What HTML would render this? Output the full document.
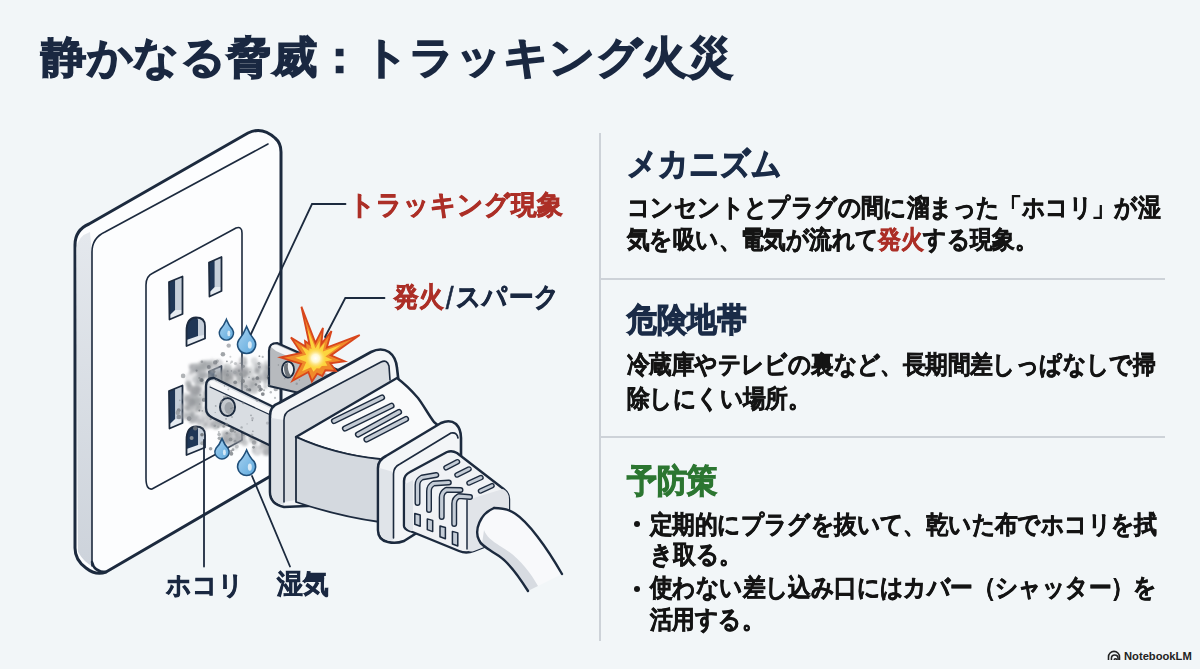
<!DOCTYPE html>
<html lang="ja">
<head>
<meta charset="utf-8">
<style>
*{margin:0;padding:0;box-sizing:border-box}
html,body{width:1200px;height:669px;overflow:hidden;background:#f2f6f8}
body{position:relative;font-family:"Liberation Sans",sans-serif;font-weight:bold}
.t{position:absolute;white-space:nowrap}
#title{-webkit-text-stroke:1.4px;left:41px;top:29px;font-size:45.5px;line-height:60px;color:#1a2841;transform:scaleY(0.95);transform-origin:0 0;letter-spacing:-0.45px}
.h{-webkit-text-stroke:1px;font-size:30px;line-height:40px;color:#1a2b47;transform:scaleY(1.1);transform-origin:0 0}
.b{-webkit-text-stroke:0.55px;font-size:22.6px;line-height:30px;color:#141414;transform:scaleY(1.1);transform-origin:0 0;letter-spacing:-0.6px}
.grn{color:#2c7631}
.dot{position:absolute;left:634.3px;width:6px;height:6px;border-radius:50%;background:#141414}
#vline{position:absolute;left:599px;top:133px;width:2px;height:508px;background:#cdd2d8}
.hline{position:absolute;left:600px;width:565px;height:2px;background:#cdd2d8}
#illu{position:absolute;left:0;top:0}
.lbl{-webkit-text-stroke:0.7px;font-size:25px;line-height:30px;color:#1a2841;transform:scaleY(1.05);transform-origin:0 0}
.red{color:#ac2f27}
#logo{position:absolute;left:1124px;top:649.5px;font-size:11.2px;color:#222;font-weight:bold}
</style>
</head>
<body>
<svg id="illu" width="600" height="669" viewBox="0 0 600 669">
<defs>
<radialGradient id="dust" cx="50%" cy="50%" r="50%">
<stop offset="0" stop-color="#8f9397" stop-opacity="0.8"/>
<stop offset="0.55" stop-color="#9da1a5" stop-opacity="0.6"/>
<stop offset="1" stop-color="#a9adb1" stop-opacity="0"/>
</radialGradient>
<radialGradient id="glow" cx="50%" cy="50%" r="50%">
<stop offset="0" stop-color="#ffffff"/>
<stop offset="0.4" stop-color="#fff8d0"/>
<stop offset="1" stop-color="#fde06a" stop-opacity="0"/>
</radialGradient>
<linearGradient id="side" x1="0" y1="0" x2="0" y2="1">
<stop offset="0" stop-color="#e4e8ed"/>
<stop offset="1" stop-color="#cdd3db"/>
</linearGradient>
<linearGradient id="drop" x1="0" y1="0" x2="1" y2="1">
<stop offset="0" stop-color="#a9d4f2"/>
<stop offset="1" stop-color="#5ea8dc"/>
</linearGradient>
<filter id="blur1" x="-20%" y="-20%" width="140%" height="140%"><feGaussianBlur stdDeviation="1.2"/></filter>
</defs>

<g stroke="#1c2a3e" stroke-linejoin="round" stroke-linecap="round">
<path d="M75,548 L75,245 Q75,230 89,224 L248,133 Q262,126 275,138 Q281,143 281,152 L281,470 L106,572 Q96,576 86,568 Q75,560 75,548 Z" fill="#fcfdfe" stroke-width="3"/>
<path d="M76.5,248 Q78,236 90,232 L92,254 L92,566 Q84,562 78,552 Z" fill="url(#side)" stroke="none"/>
<path d="M92,566 L92,252 Q92,238 105,232 L268,144" fill="none" stroke-width="1.6"/>
<path d="M92,562 Q94,572 106,572" fill="none" stroke-width="2.5"/>
<path d="M146,478 L146,285 Q146,276 153,273 L236,228 Q242,226 242,233 L242,440 L152,489 Q146,490 146,478 Z" fill="#fdfdfe" stroke-width="1.6"/>
<path d="M169,282 L182.5,276.5 L182.5,314.0 L169.5,319.5 Z" fill="#e6ebf1" stroke="none"/>
<path d="M175.075,279.525 L182.5,276.5 L182.5,310.0 L175.075,310.025 Z" fill="#c6cfda" stroke="none"/>
<path d="M169,282 L175.075,279.525 L175.075,310.025 L169.3,315.5 Z" fill="#1f3656" stroke="none"/>
<path d="M169,282 L182.5,276.5 L182.5,314.0 L169.5,319.5 Z" fill="none" stroke-width="1.8"/>
<path d="M209,262.5 L221.5,257 L221.5,291 L209.5,296.5 Z" fill="#e6ebf1" stroke="none"/>
<path d="M214.625,260.025 L221.5,257 L221.5,287 L214.625,287.025 Z" fill="#c6cfda" stroke="none"/>
<path d="M209,262.5 L214.625,260.025 L214.625,287.025 L209.3,292.5 Z" fill="#1f3656" stroke="none"/>
<path d="M209,262.5 L221.5,257 L221.5,291 L209.5,296.5 Z" fill="none" stroke-width="1.8"/>
<path d="M186.5,346 L186.5,331 Q186.5,318 196,317.5 Q205,317.5 205,326 L205,338.5 Z" fill="#e6ebf1" stroke="none"/>
<path d="M198,318.5 Q204,319 204,326 L204,335 L198,336 Z" fill="#c6cfda" stroke="none"/>
<path d="M186.5,340 L186.5,331 Q186.5,318 196,317.5 Q198,318 198,320 L198,336 Z" fill="#1f3656" stroke="none"/>
<path d="M186.5,346 L186.5,331 Q186.5,318 196,317.5 Q205,317.5 205,326 L205,338.5 Z" fill="none" stroke-width="1.8"/>
<path d="M169,391 L182.5,385.5 L182.5,423.0 L169.5,428.5 Z" fill="#e6ebf1" stroke="none"/>
<path d="M175.075,388.525 L182.5,385.5 L182.5,419.0 L175.075,419.025 Z" fill="#c6cfda" stroke="none"/>
<path d="M169,391 L175.075,388.525 L175.075,419.025 L169.3,424.5 Z" fill="#1f3656" stroke="none"/>
<path d="M169,391 L182.5,385.5 L182.5,423.0 L169.5,428.5 Z" fill="none" stroke-width="1.8"/>
<path d="M209,371.5 L221.5,366 L221.5,400 L209.5,405.5 Z" fill="#e6ebf1" stroke="none"/>
<path d="M214.625,369.025 L221.5,366 L221.5,396 L214.625,396.025 Z" fill="#c6cfda" stroke="none"/>
<path d="M209,371.5 L214.625,369.025 L214.625,396.025 L209.3,401.5 Z" fill="#1f3656" stroke="none"/>
<path d="M209,371.5 L221.5,366 L221.5,400 L209.5,405.5 Z" fill="none" stroke-width="1.8"/>
<path d="M186.5,455 L186.5,440 Q186.5,427 196,426.5 Q205,426.5 205,435 L205,447.5 Z" fill="#e6ebf1" stroke="none"/>
<path d="M198,427.5 Q204,428 204,435 L204,444 L198,445 Z" fill="#c6cfda" stroke="none"/>
<path d="M186.5,449 L186.5,440 Q186.5,427 196,426.5 Q198,427 198,429 L198,445 Z" fill="#1f3656" stroke="none"/>
<path d="M186.5,455 L186.5,440 Q186.5,427 196,426.5 Q205,426.5 205,435 L205,447.5 Z" fill="none" stroke-width="1.8"/>
</g>
<g>
<g filter="url(#blur1)"><circle cx="190.5" cy="417.5" r="3.0" fill="#8f9296" opacity="0.44"/><circle cx="190.7" cy="405.5" r="4.8" fill="#afb2b5" opacity="0.42"/><circle cx="192.9" cy="418.8" r="3.7" fill="#8f9296" opacity="0.37"/><circle cx="192.7" cy="399.3" r="2.1" fill="#8f9296" opacity="0.47"/><circle cx="189.1" cy="402.0" r="4.5" fill="#a3a6aa" opacity="0.34"/><circle cx="199.0" cy="408.2" r="3.4" fill="#8f9296" opacity="0.46"/><circle cx="195.0" cy="400.1" r="4.7" fill="#8f9296" opacity="0.54"/><circle cx="193.6" cy="412.3" r="1.6" fill="#8f9296" opacity="0.32"/><circle cx="195.9" cy="402.6" r="4.0" fill="#afb2b5" opacity="0.38"/><circle cx="193.6" cy="393.8" r="3.6" fill="#8f9296" opacity="0.43"/><circle cx="196.6" cy="396.9" r="5.2" fill="#afb2b5" opacity="0.55"/><circle cx="188.4" cy="399.7" r="4.9" fill="#a3a6aa" opacity="0.46"/><circle cx="192.2" cy="420.6" r="3.8" fill="#afb2b5" opacity="0.29"/><circle cx="182.4" cy="406.6" r="3.4" fill="#afb2b5" opacity="0.49"/><circle cx="187.3" cy="408.1" r="2.7" fill="#8f9296" opacity="0.51"/><circle cx="197.2" cy="408.7" r="1.7" fill="#afb2b5" opacity="0.42"/><circle cx="194.1" cy="401.1" r="2.4" fill="#a3a6aa" opacity="0.34"/><circle cx="196.5" cy="411.2" r="1.6" fill="#9b9ea2" opacity="0.54"/><circle cx="188.8" cy="412.8" r="4.3" fill="#afb2b5" opacity="0.34"/><circle cx="199.1" cy="400.7" r="3.0" fill="#8f9296" opacity="0.51"/><circle cx="183.1" cy="415.8" r="4.2" fill="#a3a6aa" opacity="0.44"/><circle cx="196.2" cy="400.6" r="3.2" fill="#9b9ea2" opacity="0.53"/><circle cx="185.9" cy="408.1" r="2.7" fill="#afb2b5" opacity="0.25"/><circle cx="183.8" cy="411.6" r="1.6" fill="#9b9ea2" opacity="0.27"/><circle cx="185.6" cy="396.8" r="4.2" fill="#afb2b5" opacity="0.43"/><circle cx="188.8" cy="416.5" r="3.9" fill="#a3a6aa" opacity="0.54"/><circle cx="190.0" cy="416.2" r="3.9" fill="#afb2b5" opacity="0.30"/><circle cx="193.4" cy="419.0" r="4.9" fill="#afb2b5" opacity="0.34"/><circle cx="183.9" cy="415.8" r="1.6" fill="#9b9ea2" opacity="0.34"/><circle cx="191.5" cy="420.6" r="2.5" fill="#9b9ea2" opacity="0.45"/><circle cx="208.2" cy="388.2" r="3.9" fill="#afb2b5" opacity="0.45"/><circle cx="215.7" cy="424.6" r="5.3" fill="#a3a6aa" opacity="0.35"/><circle cx="197.8" cy="369.4" r="3.3" fill="#9b9ea2" opacity="0.49"/><circle cx="236.8" cy="402.0" r="2.8" fill="#9b9ea2" opacity="0.51"/><circle cx="199.5" cy="420.6" r="1.8" fill="#afb2b5" opacity="0.43"/><circle cx="196.6" cy="405.9" r="4.9" fill="#8f9296" opacity="0.35"/><circle cx="198.6" cy="405.1" r="3.1" fill="#8f9296" opacity="0.30"/><circle cx="237.1" cy="396.0" r="5.0" fill="#8f9296" opacity="0.42"/><circle cx="233.2" cy="392.5" r="1.6" fill="#8f9296" opacity="0.50"/><circle cx="202.9" cy="375.4" r="2.7" fill="#afb2b5" opacity="0.52"/><circle cx="227.3" cy="371.3" r="5.4" fill="#a3a6aa" opacity="0.49"/><circle cx="235.5" cy="403.9" r="4.3" fill="#9b9ea2" opacity="0.52"/><circle cx="227.1" cy="380.6" r="1.6" fill="#a3a6aa" opacity="0.30"/><circle cx="205.7" cy="420.3" r="3.6" fill="#8f9296" opacity="0.27"/><circle cx="218.0" cy="390.2" r="2.0" fill="#8f9296" opacity="0.49"/><circle cx="221.7" cy="400.2" r="2.0" fill="#a3a6aa" opacity="0.30"/><circle cx="218.4" cy="363.7" r="4.7" fill="#a3a6aa" opacity="0.40"/><circle cx="198.5" cy="386.5" r="4.5" fill="#9b9ea2" opacity="0.33"/><circle cx="196.7" cy="391.5" r="3.4" fill="#a3a6aa" opacity="0.51"/><circle cx="212.6" cy="389.7" r="1.7" fill="#8f9296" opacity="0.54"/><circle cx="215.6" cy="388.8" r="3.5" fill="#afb2b5" opacity="0.30"/><circle cx="225.2" cy="403.4" r="3.1" fill="#afb2b5" opacity="0.36"/><circle cx="216.8" cy="411.3" r="2.0" fill="#a3a6aa" opacity="0.46"/><circle cx="207.8" cy="400.1" r="2.2" fill="#afb2b5" opacity="0.39"/><circle cx="201.5" cy="375.9" r="4.0" fill="#a3a6aa" opacity="0.44"/><circle cx="198.9" cy="402.8" r="3.5" fill="#afb2b5" opacity="0.38"/><circle cx="206.4" cy="374.9" r="2.5" fill="#afb2b5" opacity="0.46"/><circle cx="226.0" cy="403.8" r="3.2" fill="#a3a6aa" opacity="0.53"/><circle cx="194.8" cy="417.6" r="4.7" fill="#afb2b5" opacity="0.29"/><circle cx="202.9" cy="364.5" r="4.4" fill="#8f9296" opacity="0.45"/><circle cx="210.1" cy="371.0" r="1.9" fill="#a3a6aa" opacity="0.39"/><circle cx="213.3" cy="414.2" r="3.6" fill="#a3a6aa" opacity="0.45"/><circle cx="195.6" cy="416.2" r="2.9" fill="#a3a6aa" opacity="0.26"/><circle cx="224.6" cy="409.5" r="4.3" fill="#afb2b5" opacity="0.42"/><circle cx="213.1" cy="390.6" r="4.6" fill="#9b9ea2" opacity="0.28"/><circle cx="211.8" cy="362.4" r="1.7" fill="#afb2b5" opacity="0.51"/><circle cx="214.4" cy="401.6" r="5.5" fill="#9b9ea2" opacity="0.39"/><circle cx="204.3" cy="363.8" r="2.5" fill="#8f9296" opacity="0.53"/><circle cx="188.1" cy="383.4" r="3.0" fill="#9b9ea2" opacity="0.54"/><circle cx="193.4" cy="409.9" r="2.1" fill="#8f9296" opacity="0.30"/><circle cx="192.3" cy="413.4" r="2.2" fill="#8f9296" opacity="0.47"/><circle cx="227.2" cy="383.5" r="3.3" fill="#9b9ea2" opacity="0.29"/><circle cx="212.1" cy="384.3" r="3.6" fill="#9b9ea2" opacity="0.51"/><circle cx="190.2" cy="388.1" r="4.2" fill="#8f9296" opacity="0.43"/><circle cx="189.8" cy="377.9" r="5.1" fill="#afb2b5" opacity="0.26"/><circle cx="197.5" cy="397.5" r="2.2" fill="#afb2b5" opacity="0.32"/><circle cx="188.3" cy="398.4" r="3.2" fill="#8f9296" opacity="0.46"/><circle cx="217.1" cy="418.6" r="5.1" fill="#a3a6aa" opacity="0.39"/><circle cx="207.7" cy="364.5" r="3.1" fill="#a3a6aa" opacity="0.39"/><circle cx="213.4" cy="409.1" r="4.4" fill="#a3a6aa" opacity="0.54"/><circle cx="218.7" cy="383.5" r="2.3" fill="#afb2b5" opacity="0.29"/><circle cx="197.2" cy="376.4" r="1.6" fill="#afb2b5" opacity="0.30"/><circle cx="221.0" cy="398.4" r="1.9" fill="#a3a6aa" opacity="0.29"/><circle cx="209.8" cy="427.1" r="1.6" fill="#8f9296" opacity="0.42"/><circle cx="211.4" cy="393.5" r="2.8" fill="#8f9296" opacity="0.36"/><circle cx="229.6" cy="407.3" r="4.5" fill="#8f9296" opacity="0.37"/><circle cx="205.0" cy="392.4" r="2.6" fill="#8f9296" opacity="0.28"/><circle cx="230.6" cy="374.1" r="1.9" fill="#afb2b5" opacity="0.45"/><circle cx="201.1" cy="410.5" r="4.2" fill="#afb2b5" opacity="0.28"/><circle cx="224.8" cy="388.9" r="3.8" fill="#a3a6aa" opacity="0.45"/><circle cx="207.2" cy="394.7" r="2.7" fill="#9b9ea2" opacity="0.44"/><circle cx="211.0" cy="384.2" r="3.0" fill="#8f9296" opacity="0.29"/><circle cx="219.3" cy="390.6" r="2.8" fill="#8f9296" opacity="0.42"/><circle cx="202.2" cy="378.0" r="2.7" fill="#9b9ea2" opacity="0.46"/><circle cx="219.3" cy="402.6" r="3.7" fill="#8f9296" opacity="0.36"/><circle cx="210.5" cy="414.0" r="5.0" fill="#a3a6aa" opacity="0.39"/><circle cx="209.2" cy="422.1" r="3.6" fill="#afb2b5" opacity="0.53"/><circle cx="190.3" cy="404.6" r="1.8" fill="#8f9296" opacity="0.50"/><circle cx="221.0" cy="405.0" r="1.9" fill="#a3a6aa" opacity="0.42"/><circle cx="217.9" cy="390.1" r="4.3" fill="#8f9296" opacity="0.45"/><circle cx="192.0" cy="416.3" r="2.0" fill="#9b9ea2" opacity="0.51"/><circle cx="217.4" cy="372.5" r="2.2" fill="#9b9ea2" opacity="0.31"/><circle cx="212.0" cy="424.3" r="1.6" fill="#8f9296" opacity="0.52"/><circle cx="225.9" cy="389.0" r="3.7" fill="#afb2b5" opacity="0.44"/><circle cx="232.5" cy="391.1" r="2.7" fill="#8f9296" opacity="0.26"/><circle cx="219.2" cy="419.1" r="1.9" fill="#9b9ea2" opacity="0.40"/><circle cx="195.9" cy="391.8" r="2.3" fill="#9b9ea2" opacity="0.26"/><circle cx="192.0" cy="394.9" r="3.3" fill="#afb2b5" opacity="0.54"/><circle cx="218.1" cy="388.6" r="4.7" fill="#a3a6aa" opacity="0.26"/><circle cx="199.3" cy="379.7" r="3.5" fill="#a3a6aa" opacity="0.53"/><circle cx="201.4" cy="423.0" r="4.3" fill="#9b9ea2" opacity="0.27"/><circle cx="223.9" cy="370.3" r="1.6" fill="#a3a6aa" opacity="0.47"/><circle cx="199.3" cy="419.9" r="5.2" fill="#9b9ea2" opacity="0.38"/><circle cx="212.7" cy="373.0" r="1.9" fill="#a3a6aa" opacity="0.37"/><circle cx="223.9" cy="372.2" r="3.1" fill="#8f9296" opacity="0.46"/><circle cx="196.9" cy="390.3" r="4.1" fill="#afb2b5" opacity="0.26"/><circle cx="191.9" cy="402.2" r="3.3" fill="#8f9296" opacity="0.52"/><circle cx="209.3" cy="376.7" r="3.0" fill="#afb2b5" opacity="0.43"/><circle cx="212.1" cy="396.0" r="2.3" fill="#afb2b5" opacity="0.29"/><circle cx="202.5" cy="398.2" r="2.3" fill="#9b9ea2" opacity="0.43"/><circle cx="192.2" cy="394.4" r="2.1" fill="#9b9ea2" opacity="0.38"/><circle cx="221.3" cy="423.1" r="3.1" fill="#afb2b5" opacity="0.37"/><circle cx="210.7" cy="389.5" r="3.1" fill="#8f9296" opacity="0.40"/><circle cx="232.3" cy="377.9" r="2.5" fill="#8f9296" opacity="0.39"/><circle cx="222.0" cy="417.0" r="2.9" fill="#a3a6aa" opacity="0.43"/><circle cx="216.4" cy="379.8" r="5.4" fill="#8f9296" opacity="0.49"/><circle cx="228.4" cy="389.7" r="3.7" fill="#a3a6aa" opacity="0.49"/><circle cx="202.5" cy="382.0" r="1.9" fill="#8f9296" opacity="0.54"/><circle cx="211.2" cy="394.4" r="1.6" fill="#a3a6aa" opacity="0.26"/><circle cx="195.2" cy="394.6" r="2.3" fill="#afb2b5" opacity="0.31"/><circle cx="228.4" cy="391.4" r="4.7" fill="#afb2b5" opacity="0.53"/><circle cx="224.5" cy="398.6" r="3.9" fill="#8f9296" opacity="0.28"/><circle cx="205.6" cy="424.7" r="2.0" fill="#8f9296" opacity="0.41"/><circle cx="190.2" cy="388.3" r="3.1" fill="#8f9296" opacity="0.50"/><circle cx="188.6" cy="384.3" r="3.0" fill="#8f9296" opacity="0.38"/><circle cx="192.2" cy="404.4" r="2.9" fill="#9b9ea2" opacity="0.40"/><circle cx="212.4" cy="362.8" r="4.3" fill="#8f9296" opacity="0.26"/><circle cx="222.4" cy="420.2" r="4.8" fill="#a3a6aa" opacity="0.48"/><circle cx="209.2" cy="387.5" r="2.4" fill="#a3a6aa" opacity="0.51"/><circle cx="223.2" cy="379.9" r="5.1" fill="#afb2b5" opacity="0.55"/><circle cx="221.7" cy="395.1" r="4.6" fill="#a3a6aa" opacity="0.35"/><circle cx="205.9" cy="414.5" r="4.8" fill="#9b9ea2" opacity="0.32"/><circle cx="220.0" cy="398.3" r="4.1" fill="#a3a6aa" opacity="0.28"/><circle cx="209.6" cy="407.9" r="4.9" fill="#8f9296" opacity="0.40"/><circle cx="222.9" cy="385.6" r="5.0" fill="#9b9ea2" opacity="0.39"/><circle cx="209.2" cy="391.5" r="4.7" fill="#a3a6aa" opacity="0.51"/><circle cx="232.2" cy="414.5" r="2.5" fill="#a3a6aa" opacity="0.39"/><circle cx="216.0" cy="424.9" r="4.0" fill="#8f9296" opacity="0.48"/><circle cx="221.5" cy="382.0" r="3.9" fill="#8f9296" opacity="0.48"/><circle cx="205.5" cy="426.7" r="3.3" fill="#8f9296" opacity="0.31"/><circle cx="196.1" cy="389.8" r="4.4" fill="#a3a6aa" opacity="0.35"/><circle cx="219.8" cy="421.8" r="5.2" fill="#afb2b5" opacity="0.38"/><circle cx="200.5" cy="374.8" r="2.4" fill="#afb2b5" opacity="0.50"/><circle cx="222.1" cy="400.5" r="3.3" fill="#afb2b5" opacity="0.32"/><circle cx="224.6" cy="423.1" r="4.4" fill="#8f9296" opacity="0.53"/><circle cx="197.0" cy="390.5" r="5.3" fill="#8f9296" opacity="0.40"/><circle cx="214.2" cy="375.4" r="5.5" fill="#a3a6aa" opacity="0.34"/><circle cx="220.6" cy="390.0" r="1.9" fill="#9b9ea2" opacity="0.34"/><circle cx="192.3" cy="391.8" r="1.7" fill="#9b9ea2" opacity="0.33"/><circle cx="199.5" cy="402.4" r="4.5" fill="#afb2b5" opacity="0.29"/><circle cx="189.0" cy="406.0" r="3.3" fill="#9b9ea2" opacity="0.30"/><circle cx="213.7" cy="367.6" r="5.4" fill="#afb2b5" opacity="0.53"/><circle cx="189.2" cy="408.7" r="3.4" fill="#9b9ea2" opacity="0.36"/><circle cx="219.4" cy="382.2" r="3.4" fill="#afb2b5" opacity="0.49"/><circle cx="208.7" cy="408.9" r="4.7" fill="#a3a6aa" opacity="0.25"/><circle cx="206.3" cy="387.1" r="1.6" fill="#a3a6aa" opacity="0.25"/><circle cx="234.5" cy="392.0" r="2.9" fill="#afb2b5" opacity="0.54"/><circle cx="221.2" cy="397.7" r="1.6" fill="#8f9296" opacity="0.52"/><circle cx="221.8" cy="373.4" r="4.7" fill="#8f9296" opacity="0.34"/><circle cx="212.4" cy="424.8" r="3.2" fill="#afb2b5" opacity="0.35"/><circle cx="215.6" cy="395.9" r="5.5" fill="#9b9ea2" opacity="0.52"/><circle cx="216.0" cy="381.3" r="2.0" fill="#8f9296" opacity="0.40"/><circle cx="220.9" cy="374.2" r="2.6" fill="#9b9ea2" opacity="0.26"/><circle cx="207.2" cy="395.6" r="4.8" fill="#8f9296" opacity="0.39"/><circle cx="199.4" cy="367.0" r="4.8" fill="#8f9296" opacity="0.36"/><circle cx="203.6" cy="383.0" r="1.8" fill="#9b9ea2" opacity="0.55"/><circle cx="197.5" cy="389.2" r="2.9" fill="#8f9296" opacity="0.33"/><circle cx="247.5" cy="382.5" r="3.6" fill="#afb2b5" opacity="0.29"/><circle cx="266.9" cy="377.4" r="2.4" fill="#8f9296" opacity="0.53"/><circle cx="245.2" cy="373.7" r="3.8" fill="#a3a6aa" opacity="0.40"/><circle cx="243.4" cy="387.8" r="5.1" fill="#a3a6aa" opacity="0.38"/><circle cx="251.5" cy="376.0" r="3.4" fill="#8f9296" opacity="0.31"/><circle cx="257.5" cy="372.3" r="3.0" fill="#8f9296" opacity="0.34"/><circle cx="244.2" cy="390.4" r="5.3" fill="#afb2b5" opacity="0.43"/><circle cx="244.2" cy="374.3" r="3.2" fill="#8f9296" opacity="0.54"/><circle cx="258.9" cy="378.2" r="2.3" fill="#a3a6aa" opacity="0.46"/><circle cx="265.1" cy="383.0" r="2.0" fill="#a3a6aa" opacity="0.53"/><circle cx="271.7" cy="372.9" r="3.2" fill="#8f9296" opacity="0.39"/><circle cx="242.8" cy="385.9" r="2.2" fill="#8f9296" opacity="0.54"/><circle cx="265.4" cy="386.9" r="2.2" fill="#8f9296" opacity="0.45"/><circle cx="242.4" cy="371.0" r="1.7" fill="#9b9ea2" opacity="0.34"/><circle cx="242.7" cy="371.2" r="2.1" fill="#9b9ea2" opacity="0.41"/><circle cx="242.2" cy="377.8" r="3.1" fill="#a3a6aa" opacity="0.33"/><circle cx="254.4" cy="378.7" r="2.0" fill="#afb2b5" opacity="0.53"/><circle cx="225.1" cy="365.7" r="1.5" fill="#afb2b5" opacity="0.55"/><circle cx="260.8" cy="374.1" r="2.9" fill="#8f9296" opacity="0.28"/><circle cx="258.9" cy="366.6" r="4.5" fill="#8f9296" opacity="0.42"/><circle cx="227.8" cy="377.5" r="3.3" fill="#8f9296" opacity="0.50"/><circle cx="254.7" cy="386.1" r="5.2" fill="#9b9ea2" opacity="0.34"/><circle cx="266.5" cy="362.9" r="2.8" fill="#9b9ea2" opacity="0.29"/><circle cx="243.7" cy="373.3" r="4.0" fill="#9b9ea2" opacity="0.28"/><circle cx="275.5" cy="376.3" r="4.7" fill="#afb2b5" opacity="0.41"/><circle cx="248.7" cy="371.2" r="3.7" fill="#8f9296" opacity="0.35"/><circle cx="237.8" cy="371.5" r="3.3" fill="#afb2b5" opacity="0.44"/><circle cx="227.6" cy="368.0" r="4.6" fill="#afb2b5" opacity="0.51"/><circle cx="255.2" cy="368.5" r="5.4" fill="#afb2b5" opacity="0.30"/><circle cx="238.3" cy="371.1" r="5.5" fill="#9b9ea2" opacity="0.33"/><circle cx="266.3" cy="372.9" r="3.4" fill="#9b9ea2" opacity="0.55"/><circle cx="229.9" cy="373.3" r="4.0" fill="#a3a6aa" opacity="0.38"/><circle cx="226.8" cy="371.3" r="2.7" fill="#9b9ea2" opacity="0.51"/><circle cx="225.9" cy="385.5" r="3.0" fill="#9b9ea2" opacity="0.27"/><circle cx="239.7" cy="375.2" r="4.4" fill="#8f9296" opacity="0.46"/><circle cx="238.6" cy="380.9" r="3.5" fill="#8f9296" opacity="0.38"/><circle cx="268.0" cy="368.0" r="1.9" fill="#8f9296" opacity="0.29"/><circle cx="251.1" cy="383.7" r="4.0" fill="#9b9ea2" opacity="0.52"/><circle cx="252.6" cy="384.4" r="2.3" fill="#a3a6aa" opacity="0.41"/><circle cx="266.1" cy="369.8" r="4.4" fill="#9b9ea2" opacity="0.38"/><circle cx="244.5" cy="370.9" r="5.0" fill="#8f9296" opacity="0.32"/><circle cx="257.5" cy="381.0" r="3.7" fill="#a3a6aa" opacity="0.50"/><circle cx="242.4" cy="372.9" r="1.6" fill="#afb2b5" opacity="0.36"/><circle cx="218.3" cy="376.0" r="3.4" fill="#9b9ea2" opacity="0.37"/><circle cx="229.9" cy="374.3" r="4.0" fill="#afb2b5" opacity="0.38"/><circle cx="272.3" cy="384.0" r="4.3" fill="#a3a6aa" opacity="0.27"/><circle cx="266.0" cy="365.6" r="2.8" fill="#a3a6aa" opacity="0.35"/><circle cx="267.4" cy="368.7" r="1.9" fill="#afb2b5" opacity="0.44"/><circle cx="257.0" cy="370.6" r="2.8" fill="#8f9296" opacity="0.54"/><circle cx="267.2" cy="378.5" r="5.1" fill="#9b9ea2" opacity="0.42"/><circle cx="258.7" cy="378.4" r="3.4" fill="#8f9296" opacity="0.34"/><circle cx="271.3" cy="373.6" r="3.6" fill="#9b9ea2" opacity="0.42"/><circle cx="236.0" cy="384.7" r="3.8" fill="#afb2b5" opacity="0.44"/><circle cx="232.3" cy="385.8" r="5.1" fill="#9b9ea2" opacity="0.38"/><circle cx="243.1" cy="360.6" r="4.0" fill="#8f9296" opacity="0.51"/><circle cx="253.6" cy="388.9" r="5.3" fill="#a3a6aa" opacity="0.53"/><circle cx="220.9" cy="374.9" r="2.8" fill="#a3a6aa" opacity="0.35"/><circle cx="248.5" cy="389.8" r="4.2" fill="#a3a6aa" opacity="0.32"/><circle cx="239.8" cy="379.8" r="2.6" fill="#afb2b5" opacity="0.33"/><circle cx="242.6" cy="367.1" r="1.9" fill="#9b9ea2" opacity="0.34"/><circle cx="252.8" cy="379.9" r="3.4" fill="#9b9ea2" opacity="0.31"/><circle cx="237.4" cy="364.6" r="2.2" fill="#8f9296" opacity="0.43"/><circle cx="238.5" cy="377.6" r="2.7" fill="#afb2b5" opacity="0.27"/><circle cx="254.3" cy="360.8" r="3.5" fill="#9b9ea2" opacity="0.33"/><circle cx="267.2" cy="367.4" r="2.4" fill="#8f9296" opacity="0.35"/><circle cx="267.4" cy="374.7" r="2.2" fill="#8f9296" opacity="0.35"/><circle cx="245.6" cy="363.5" r="1.9" fill="#9b9ea2" opacity="0.51"/><circle cx="227.5" cy="376.5" r="5.0" fill="#8f9296" opacity="0.36"/><circle cx="263.4" cy="377.2" r="4.0" fill="#a3a6aa" opacity="0.46"/><circle cx="269.7" cy="373.2" r="3.8" fill="#afb2b5" opacity="0.41"/><circle cx="274.9" cy="374.0" r="4.5" fill="#afb2b5" opacity="0.53"/><circle cx="229.3" cy="380.3" r="4.6" fill="#8f9296" opacity="0.39"/><circle cx="236.1" cy="372.1" r="4.3" fill="#8f9296" opacity="0.46"/><circle cx="243.5" cy="379.8" r="5.2" fill="#8f9296" opacity="0.30"/><circle cx="239.1" cy="378.7" r="3.1" fill="#afb2b5" opacity="0.28"/><circle cx="266.2" cy="378.5" r="2.3" fill="#9b9ea2" opacity="0.29"/><circle cx="240.1" cy="373.6" r="3.0" fill="#afb2b5" opacity="0.37"/><circle cx="260.7" cy="378.0" r="2.8" fill="#afb2b5" opacity="0.29"/><circle cx="266.2" cy="371.7" r="3.2" fill="#afb2b5" opacity="0.36"/><circle cx="242.4" cy="368.4" r="4.6" fill="#9b9ea2" opacity="0.45"/><circle cx="262.2" cy="440.7" r="2.9" fill="#afb2b5" opacity="0.52"/><circle cx="273.9" cy="441.3" r="4.5" fill="#9b9ea2" opacity="0.55"/><circle cx="259.5" cy="435.7" r="4.8" fill="#9b9ea2" opacity="0.30"/><circle cx="257.9" cy="420.5" r="3.5" fill="#afb2b5" opacity="0.52"/><circle cx="251.9" cy="435.2" r="3.8" fill="#8f9296" opacity="0.54"/><circle cx="254.2" cy="434.9" r="2.6" fill="#8f9296" opacity="0.30"/><circle cx="272.7" cy="432.8" r="1.5" fill="#9b9ea2" opacity="0.40"/><circle cx="277.6" cy="423.7" r="4.4" fill="#afb2b5" opacity="0.33"/><circle cx="253.2" cy="417.7" r="5.4" fill="#afb2b5" opacity="0.31"/><circle cx="271.7" cy="449.9" r="4.5" fill="#8f9296" opacity="0.38"/><circle cx="260.8" cy="436.4" r="2.8" fill="#9b9ea2" opacity="0.33"/><circle cx="265.4" cy="432.7" r="4.2" fill="#a3a6aa" opacity="0.25"/><circle cx="275.5" cy="440.3" r="3.1" fill="#8f9296" opacity="0.42"/><circle cx="256.3" cy="417.4" r="2.2" fill="#a3a6aa" opacity="0.27"/><circle cx="257.6" cy="417.1" r="1.5" fill="#afb2b5" opacity="0.41"/><circle cx="253.7" cy="450.8" r="1.9" fill="#9b9ea2" opacity="0.37"/><circle cx="265.8" cy="416.1" r="4.2" fill="#afb2b5" opacity="0.44"/><circle cx="254.9" cy="433.7" r="1.5" fill="#9b9ea2" opacity="0.32"/><circle cx="258.2" cy="433.0" r="2.8" fill="#a3a6aa" opacity="0.41"/><circle cx="255.0" cy="423.4" r="1.6" fill="#a3a6aa" opacity="0.43"/><circle cx="263.9" cy="444.7" r="3.5" fill="#8f9296" opacity="0.45"/><circle cx="260.9" cy="413.8" r="3.2" fill="#afb2b5" opacity="0.49"/><circle cx="266.9" cy="443.4" r="3.6" fill="#afb2b5" opacity="0.53"/><circle cx="250.2" cy="421.1" r="3.3" fill="#9b9ea2" opacity="0.34"/><circle cx="254.7" cy="428.7" r="3.6" fill="#afb2b5" opacity="0.29"/><circle cx="250.4" cy="430.0" r="2.5" fill="#8f9296" opacity="0.26"/><circle cx="275.4" cy="432.6" r="1.7" fill="#8f9296" opacity="0.52"/><circle cx="275.6" cy="435.6" r="2.7" fill="#8f9296" opacity="0.40"/><circle cx="264.8" cy="409.3" r="2.7" fill="#a3a6aa" opacity="0.37"/><circle cx="259.1" cy="424.7" r="4.2" fill="#9b9ea2" opacity="0.28"/><circle cx="261.6" cy="413.6" r="4.6" fill="#9b9ea2" opacity="0.44"/><circle cx="274.3" cy="439.4" r="3.5" fill="#a3a6aa" opacity="0.40"/><circle cx="254.3" cy="442.1" r="1.8" fill="#afb2b5" opacity="0.42"/><circle cx="253.2" cy="439.6" r="3.9" fill="#a3a6aa" opacity="0.35"/><circle cx="248.4" cy="432.2" r="4.6" fill="#afb2b5" opacity="0.31"/><circle cx="268.6" cy="436.2" r="3.4" fill="#8f9296" opacity="0.39"/><circle cx="264.7" cy="441.9" r="1.7" fill="#9b9ea2" opacity="0.55"/><circle cx="271.9" cy="434.2" r="3.0" fill="#afb2b5" opacity="0.28"/><circle cx="267.2" cy="444.3" r="2.5" fill="#8f9296" opacity="0.42"/><circle cx="256.2" cy="442.2" r="1.7" fill="#8f9296" opacity="0.36"/><circle cx="260.7" cy="419.1" r="2.4" fill="#9b9ea2" opacity="0.51"/><circle cx="262.2" cy="427.0" r="3.2" fill="#a3a6aa" opacity="0.43"/><circle cx="252.6" cy="439.0" r="3.5" fill="#8f9296" opacity="0.43"/><circle cx="258.8" cy="430.7" r="3.7" fill="#9b9ea2" opacity="0.52"/><circle cx="267.8" cy="451.0" r="4.7" fill="#a3a6aa" opacity="0.54"/><circle cx="272.0" cy="445.7" r="5.1" fill="#a3a6aa" opacity="0.28"/><circle cx="265.8" cy="452.2" r="3.7" fill="#9b9ea2" opacity="0.52"/><circle cx="256.8" cy="433.0" r="2.4" fill="#8f9296" opacity="0.40"/><circle cx="253.5" cy="418.5" r="1.6" fill="#a3a6aa" opacity="0.43"/><circle cx="255.0" cy="444.0" r="2.4" fill="#a3a6aa" opacity="0.33"/><circle cx="276.4" cy="441.5" r="2.5" fill="#9b9ea2" opacity="0.51"/><circle cx="254.4" cy="447.3" r="1.9" fill="#afb2b5" opacity="0.48"/><circle cx="265.5" cy="421.9" r="4.4" fill="#a3a6aa" opacity="0.40"/><circle cx="257.2" cy="450.6" r="5.2" fill="#afb2b5" opacity="0.50"/><circle cx="269.1" cy="434.5" r="2.3" fill="#9b9ea2" opacity="0.35"/><circle cx="263.4" cy="438.9" r="4.0" fill="#a3a6aa" opacity="0.39"/><circle cx="261.9" cy="446.5" r="3.1" fill="#afb2b5" opacity="0.50"/><circle cx="251.0" cy="427.6" r="2.3" fill="#afb2b5" opacity="0.45"/><circle cx="275.2" cy="444.0" r="3.1" fill="#afb2b5" opacity="0.49"/><circle cx="263.4" cy="420.0" r="4.5" fill="#a3a6aa" opacity="0.26"/><circle cx="268.6" cy="420.9" r="2.2" fill="#afb2b5" opacity="0.26"/><circle cx="264.4" cy="412.5" r="1.8" fill="#afb2b5" opacity="0.42"/><circle cx="272.9" cy="431.8" r="4.3" fill="#9b9ea2" opacity="0.39"/><circle cx="266.5" cy="435.7" r="4.9" fill="#8f9296" opacity="0.33"/><circle cx="265.9" cy="422.6" r="3.3" fill="#8f9296" opacity="0.36"/><circle cx="261.2" cy="431.2" r="3.7" fill="#8f9296" opacity="0.42"/><circle cx="260.9" cy="429.7" r="1.8" fill="#afb2b5" opacity="0.31"/><circle cx="266.9" cy="429.2" r="5.0" fill="#9b9ea2" opacity="0.47"/><circle cx="270.7" cy="427.2" r="3.0" fill="#a3a6aa" opacity="0.50"/><circle cx="271.4" cy="411.7" r="5.4" fill="#a3a6aa" opacity="0.55"/><circle cx="269.0" cy="445.8" r="3.5" fill="#afb2b5" opacity="0.47"/><circle cx="267.1" cy="407.0" r="4.2" fill="#a3a6aa" opacity="0.28"/><circle cx="235.9" cy="432.2" r="2.3" fill="#a3a6aa" opacity="0.33"/><circle cx="234.1" cy="439.0" r="2.3" fill="#8f9296" opacity="0.26"/><circle cx="221.6" cy="439.4" r="2.4" fill="#8f9296" opacity="0.47"/><circle cx="226.3" cy="434.2" r="4.3" fill="#a3a6aa" opacity="0.51"/><circle cx="231.8" cy="432.7" r="1.6" fill="#8f9296" opacity="0.29"/><circle cx="239.9" cy="435.0" r="3.6" fill="#8f9296" opacity="0.29"/><circle cx="233.4" cy="431.3" r="4.9" fill="#afb2b5" opacity="0.27"/><circle cx="235.5" cy="433.1" r="2.8" fill="#8f9296" opacity="0.32"/><circle cx="243.0" cy="436.2" r="2.7" fill="#afb2b5" opacity="0.48"/><circle cx="236.1" cy="435.3" r="1.8" fill="#8f9296" opacity="0.47"/><circle cx="228.2" cy="436.8" r="5.3" fill="#8f9296" opacity="0.50"/><circle cx="244.3" cy="436.4" r="1.5" fill="#afb2b5" opacity="0.38"/><circle cx="245.1" cy="442.6" r="3.6" fill="#afb2b5" opacity="0.44"/><circle cx="225.5" cy="440.2" r="3.5" fill="#9b9ea2" opacity="0.50"/><circle cx="238.2" cy="440.0" r="4.3" fill="#8f9296" opacity="0.48"/><circle cx="231.2" cy="442.1" r="4.9" fill="#9b9ea2" opacity="0.54"/><circle cx="240.2" cy="437.5" r="5.5" fill="#9b9ea2" opacity="0.44"/><circle cx="235.8" cy="447.9" r="2.0" fill="#afb2b5" opacity="0.45"/><circle cx="239.2" cy="432.7" r="1.5" fill="#8f9296" opacity="0.34"/><circle cx="224.2" cy="434.5" r="4.0" fill="#afb2b5" opacity="0.30"/><circle cx="225.4" cy="441.8" r="2.7" fill="#8f9296" opacity="0.35"/><circle cx="244.0" cy="442.8" r="3.0" fill="#a3a6aa" opacity="0.35"/><circle cx="237.0" cy="440.1" r="2.1" fill="#a3a6aa" opacity="0.30"/><circle cx="276.8" cy="375.7" r="3.4" fill="#a3a6aa" opacity="0.25"/><circle cx="274.4" cy="361.4" r="2.8" fill="#afb2b5" opacity="0.42"/><circle cx="277.9" cy="376.2" r="2.9" fill="#8f9296" opacity="0.29"/><circle cx="274.8" cy="370.6" r="1.7" fill="#8f9296" opacity="0.50"/><circle cx="295.3" cy="359.6" r="4.0" fill="#afb2b5" opacity="0.38"/><circle cx="284.5" cy="365.7" r="5.4" fill="#a3a6aa" opacity="0.37"/><circle cx="295.8" cy="368.5" r="3.2" fill="#9b9ea2" opacity="0.46"/><circle cx="286.2" cy="363.0" r="2.6" fill="#afb2b5" opacity="0.31"/><circle cx="291.2" cy="360.3" r="3.2" fill="#a3a6aa" opacity="0.53"/><circle cx="282.5" cy="356.9" r="3.5" fill="#8f9296" opacity="0.36"/><circle cx="278.6" cy="374.4" r="2.4" fill="#a3a6aa" opacity="0.32"/><circle cx="288.5" cy="371.0" r="2.0" fill="#8f9296" opacity="0.54"/><circle cx="285.6" cy="354.1" r="4.8" fill="#8f9296" opacity="0.52"/><circle cx="291.3" cy="377.3" r="4.8" fill="#8f9296" opacity="0.48"/><circle cx="280.8" cy="368.9" r="4.1" fill="#9b9ea2" opacity="0.51"/><circle cx="281.0" cy="357.6" r="4.7" fill="#afb2b5" opacity="0.34"/><circle cx="294.0" cy="357.9" r="3.0" fill="#8f9296" opacity="0.30"/><circle cx="283.3" cy="367.8" r="5.4" fill="#afb2b5" opacity="0.52"/><circle cx="285.4" cy="357.6" r="2.3" fill="#8f9296" opacity="0.45"/><circle cx="287.6" cy="377.8" r="3.6" fill="#afb2b5" opacity="0.51"/><circle cx="284.5" cy="371.9" r="5.1" fill="#a3a6aa" opacity="0.54"/><circle cx="292.7" cy="372.4" r="5.3" fill="#8f9296" opacity="0.51"/><circle cx="296.9" cy="367.7" r="4.0" fill="#afb2b5" opacity="0.34"/><circle cx="277.7" cy="375.5" r="2.0" fill="#9b9ea2" opacity="0.49"/><circle cx="273.3" cy="367.3" r="3.0" fill="#9b9ea2" opacity="0.30"/><circle cx="292.5" cy="354.4" r="4.5" fill="#a3a6aa" opacity="0.31"/><circle cx="276.5" cy="377.6" r="4.2" fill="#a3a6aa" opacity="0.42"/><circle cx="281.5" cy="366.8" r="3.1" fill="#8f9296" opacity="0.49"/><circle cx="276.9" cy="376.8" r="3.1" fill="#a3a6aa" opacity="0.39"/><circle cx="288.8" cy="376.9" r="3.3" fill="#a3a6aa" opacity="0.33"/><circle cx="290.3" cy="367.8" r="3.7" fill="#afb2b5" opacity="0.48"/><circle cx="289.6" cy="354.7" r="4.0" fill="#afb2b5" opacity="0.51"/><circle cx="287.8" cy="366.0" r="3.8" fill="#9b9ea2" opacity="0.31"/><circle cx="286.9" cy="378.8" r="2.3" fill="#9b9ea2" opacity="0.41"/><circle cx="291.9" cy="369.7" r="3.5" fill="#a3a6aa" opacity="0.52"/><circle cx="287.3" cy="359.4" r="4.6" fill="#8f9296" opacity="0.48"/><circle cx="287.5" cy="367.4" r="1.8" fill="#afb2b5" opacity="0.45"/><circle cx="202.5" cy="369.1" r="2.2" fill="#afb2b5" opacity="0.27"/><circle cx="190.7" cy="372.7" r="2.1" fill="#9b9ea2" opacity="0.44"/><circle cx="198.1" cy="381.2" r="1.7" fill="#9b9ea2" opacity="0.44"/><circle cx="202.8" cy="367.2" r="1.8" fill="#9b9ea2" opacity="0.30"/><circle cx="194.6" cy="367.7" r="4.6" fill="#9b9ea2" opacity="0.51"/><circle cx="206.7" cy="364.9" r="3.7" fill="#afb2b5" opacity="0.46"/><circle cx="193.3" cy="369.9" r="1.6" fill="#a3a6aa" opacity="0.38"/><circle cx="195.0" cy="371.9" r="3.1" fill="#9b9ea2" opacity="0.32"/><circle cx="208.8" cy="365.6" r="2.6" fill="#9b9ea2" opacity="0.39"/><circle cx="207.4" cy="365.0" r="5.4" fill="#a3a6aa" opacity="0.43"/><circle cx="203.8" cy="374.7" r="3.2" fill="#9b9ea2" opacity="0.28"/><circle cx="201.3" cy="371.5" r="5.4" fill="#9b9ea2" opacity="0.35"/><circle cx="191.1" cy="366.1" r="2.8" fill="#8f9296" opacity="0.34"/><circle cx="201.6" cy="369.7" r="5.0" fill="#a3a6aa" opacity="0.26"/><circle cx="199.0" cy="373.0" r="2.2" fill="#a3a6aa" opacity="0.26"/><circle cx="198.1" cy="380.0" r="5.5" fill="#a3a6aa" opacity="0.51"/><circle cx="204.3" cy="364.7" r="3.0" fill="#afb2b5" opacity="0.35"/><circle cx="203.6" cy="367.6" r="4.1" fill="#a3a6aa" opacity="0.35"/><circle cx="192.7" cy="368.7" r="4.0" fill="#9b9ea2" opacity="0.37"/><circle cx="207.6" cy="375.6" r="3.5" fill="#a3a6aa" opacity="0.37"/></g>
<circle cx="275.8" cy="389.0" r="2.3" fill="#9a9ea2" opacity="0.81"/><circle cx="247.4" cy="429.1" r="1.7" fill="#6f747a" opacity="0.93"/><circle cx="219.7" cy="382.4" r="1.9" fill="#8c9095" opacity="0.57"/><circle cx="217.2" cy="361.1" r="1.7" fill="#8c9095" opacity="0.58"/><circle cx="262.8" cy="394.1" r="1.9" fill="#6f747a" opacity="0.83"/><circle cx="211.3" cy="396.2" r="1.4" fill="#6f747a" opacity="0.86"/><circle cx="219.4" cy="438.3" r="1.8" fill="#9a9ea2" opacity="0.90"/><circle cx="287.9" cy="424.2" r="1.8" fill="#9a9ea2" opacity="0.82"/><circle cx="217.0" cy="451.5" r="1.5" fill="#6f747a" opacity="0.57"/><circle cx="257.2" cy="414.2" r="1.6" fill="#6f747a" opacity="0.63"/><circle cx="231.8" cy="361.7" r="1.3" fill="#9a9ea2" opacity="0.53"/><circle cx="221.4" cy="390.0" r="0.9" fill="#6f747a" opacity="0.69"/><circle cx="195.2" cy="428.3" r="2.2" fill="#6f747a" opacity="0.85"/><circle cx="235.5" cy="398.6" r="2.3" fill="#6f747a" opacity="0.70"/><circle cx="236.9" cy="446.5" r="1.9" fill="#9a9ea2" opacity="0.55"/><circle cx="183.1" cy="375.9" r="2.3" fill="#9a9ea2" opacity="0.78"/><circle cx="219.1" cy="434.5" r="1.8" fill="#9a9ea2" opacity="0.72"/><circle cx="235.2" cy="382.3" r="1.9" fill="#7f8489" opacity="0.90"/><circle cx="236.2" cy="397.6" r="1.2" fill="#9a9ea2" opacity="0.76"/><circle cx="273.8" cy="414.4" r="0.8" fill="#7f8489" opacity="0.64"/><circle cx="285.5" cy="374.4" r="1.0" fill="#6f747a" opacity="0.61"/><circle cx="202.3" cy="410.8" r="0.9" fill="#7f8489" opacity="0.61"/><circle cx="280.8" cy="402.9" r="1.3" fill="#7f8489" opacity="0.69"/><circle cx="259.8" cy="390.3" r="1.6" fill="#8c9095" opacity="0.67"/><circle cx="262.7" cy="356.9" r="1.1" fill="#9a9ea2" opacity="0.67"/><circle cx="230.1" cy="405.8" r="2.2" fill="#6f747a" opacity="0.54"/><circle cx="249.0" cy="377.3" r="0.9" fill="#8c9095" opacity="0.71"/><circle cx="223.7" cy="426.5" r="1.3" fill="#7f8489" opacity="0.68"/><circle cx="254.0" cy="442.6" r="2.2" fill="#8c9095" opacity="0.61"/><circle cx="249.7" cy="389.9" r="1.1" fill="#7f8489" opacity="0.82"/><circle cx="246.0" cy="386.5" r="1.8" fill="#9a9ea2" opacity="0.86"/><circle cx="235.3" cy="390.9" r="2.2" fill="#6f747a" opacity="0.82"/><circle cx="235.6" cy="418.3" r="1.3" fill="#9a9ea2" opacity="0.70"/><circle cx="255.9" cy="384.5" r="1.3" fill="#6f747a" opacity="0.76"/><circle cx="242.9" cy="392.9" r="1.3" fill="#8c9095" opacity="0.81"/><circle cx="231.2" cy="451.0" r="1.2" fill="#6f747a" opacity="0.64"/><circle cx="253.5" cy="447.3" r="1.4" fill="#7f8489" opacity="0.71"/><circle cx="261.3" cy="419.5" r="1.1" fill="#8c9095" opacity="0.52"/><circle cx="273.7" cy="412.2" r="0.8" fill="#8c9095" opacity="0.64"/><circle cx="247.5" cy="389.5" r="1.5" fill="#8c9095" opacity="0.95"/><circle cx="210.6" cy="448.8" r="1.8" fill="#8c9095" opacity="0.81"/><circle cx="257.3" cy="378.2" r="1.9" fill="#6f747a" opacity="0.60"/><circle cx="246.6" cy="396.6" r="1.7" fill="#7f8489" opacity="0.88"/><circle cx="200.2" cy="395.0" r="1.2" fill="#9a9ea2" opacity="0.63"/><circle cx="223.5" cy="443.6" r="0.9" fill="#7f8489" opacity="0.55"/><circle cx="189.1" cy="418.6" r="2.3" fill="#8c9095" opacity="0.88"/><circle cx="214.0" cy="403.8" r="1.8" fill="#7f8489" opacity="0.68"/><circle cx="288.4" cy="401.2" r="1.7" fill="#9a9ea2" opacity="0.80"/><circle cx="233.0" cy="449.7" r="1.4" fill="#8c9095" opacity="0.83"/><circle cx="258.8" cy="439.0" r="1.8" fill="#7f8489" opacity="0.69"/><circle cx="178.8" cy="417.0" r="2.3" fill="#6f747a" opacity="0.61"/><circle cx="218.2" cy="426.7" r="1.2" fill="#9a9ea2" opacity="0.51"/><circle cx="201.5" cy="380.0" r="2.1" fill="#6f747a" opacity="0.77"/><circle cx="208.8" cy="366.9" r="2.0" fill="#6f747a" opacity="0.71"/><circle cx="202.3" cy="443.3" r="2.0" fill="#9a9ea2" opacity="0.87"/><circle cx="234.7" cy="431.8" r="1.3" fill="#7f8489" opacity="0.51"/><circle cx="222.5" cy="394.4" r="2.3" fill="#7f8489" opacity="0.63"/><circle cx="250.0" cy="371.9" r="0.9" fill="#9a9ea2" opacity="0.63"/><circle cx="221.1" cy="413.6" r="1.2" fill="#9a9ea2" opacity="0.57"/><circle cx="236.1" cy="413.6" r="1.4" fill="#7f8489" opacity="0.51"/><circle cx="203.8" cy="399.9" r="1.9" fill="#6f747a" opacity="0.81"/><circle cx="215.1" cy="415.6" r="1.9" fill="#7f8489" opacity="0.88"/><circle cx="226.3" cy="402.1" r="1.7" fill="#8c9095" opacity="0.87"/><circle cx="225.3" cy="410.2" r="1.3" fill="#6f747a" opacity="0.62"/><circle cx="279.7" cy="385.3" r="0.8" fill="#7f8489" opacity="0.77"/><circle cx="269.5" cy="417.5" r="1.3" fill="#6f747a" opacity="0.92"/><circle cx="266.5" cy="428.8" r="1.4" fill="#7f8489" opacity="0.58"/><circle cx="263.9" cy="425.5" r="2.0" fill="#8c9095" opacity="0.75"/><circle cx="215.2" cy="362.4" r="2.2" fill="#6f747a" opacity="0.64"/><circle cx="245.0" cy="431.3" r="1.7" fill="#9a9ea2" opacity="0.79"/><circle cx="240.7" cy="374.2" r="1.7" fill="#8c9095" opacity="0.67"/><circle cx="220.2" cy="413.7" r="2.3" fill="#9a9ea2" opacity="0.83"/><circle cx="211.1" cy="410.1" r="2.2" fill="#6f747a" opacity="0.54"/><circle cx="257.3" cy="377.9" r="1.5" fill="#6f747a" opacity="0.66"/><circle cx="259.3" cy="386.8" r="2.0" fill="#8c9095" opacity="0.87"/><circle cx="241.3" cy="403.4" r="2.2" fill="#9a9ea2" opacity="0.70"/><circle cx="178.7" cy="410.2" r="2.0" fill="#7f8489" opacity="0.85"/><circle cx="289.3" cy="398.2" r="1.3" fill="#6f747a" opacity="0.64"/><circle cx="234.9" cy="372.4" r="1.8" fill="#9a9ea2" opacity="0.68"/><circle cx="202.0" cy="434.7" r="1.8" fill="#6f747a" opacity="0.92"/><circle cx="236.3" cy="412.8" r="2.3" fill="#8c9095" opacity="0.56"/><circle cx="244.3" cy="345.8" r="1.2" fill="#6f747a" opacity="0.63"/><circle cx="243.4" cy="366.3" r="1.6" fill="#7f8489" opacity="0.69"/><circle cx="210.7" cy="419.1" r="1.2" fill="#6f747a" opacity="0.54"/><circle cx="231.3" cy="453.8" r="2.0" fill="#7f8489" opacity="0.84"/><circle cx="254.3" cy="417.5" r="2.3" fill="#7f8489" opacity="0.87"/><circle cx="222.9" cy="354.2" r="2.3" fill="#6f747a" opacity="0.65"/><circle cx="225.7" cy="392.0" r="1.8" fill="#9a9ea2" opacity="0.62"/><circle cx="235.1" cy="406.5" r="1.4" fill="#7f8489" opacity="0.71"/><circle cx="208.2" cy="389.5" r="1.7" fill="#6f747a" opacity="0.80"/><circle cx="235.2" cy="397.6" r="2.2" fill="#9a9ea2" opacity="0.89"/><circle cx="218.8" cy="432.1" r="1.0" fill="#9a9ea2" opacity="0.62"/><circle cx="235.1" cy="441.3" r="1.5" fill="#8c9095" opacity="0.73"/><circle cx="242.9" cy="381.2" r="2.1" fill="#7f8489" opacity="0.88"/><circle cx="201.9" cy="361.8" r="1.3" fill="#8c9095" opacity="0.74"/><circle cx="243.6" cy="399.1" r="2.0" fill="#6f747a" opacity="0.74"/><circle cx="265.7" cy="422.7" r="2.4" fill="#8c9095" opacity="0.75"/><circle cx="204.3" cy="399.3" r="1.8" fill="#9a9ea2" opacity="0.61"/><circle cx="228.7" cy="345.6" r="2.2" fill="#6f747a" opacity="0.53"/><circle cx="264.0" cy="390.3" r="1.1" fill="#8c9095" opacity="0.67"/><circle cx="235.0" cy="398.1" r="2.0" fill="#7f8489" opacity="0.85"/><circle cx="229.3" cy="405.9" r="1.6" fill="#6f747a" opacity="0.59"/><circle cx="201.9" cy="380.3" r="1.4" fill="#6f747a" opacity="0.80"/><circle cx="269.1" cy="377.4" r="2.3" fill="#6f747a" opacity="0.93"/><circle cx="235.4" cy="363.5" r="1.6" fill="#9a9ea2" opacity="0.51"/><circle cx="199.4" cy="410.6" r="1.0" fill="#7f8489" opacity="0.94"/><circle cx="191.6" cy="437.9" r="2.0" fill="#9a9ea2" opacity="0.86"/><circle cx="226.2" cy="394.6" r="1.6" fill="#6f747a" opacity="0.74"/><circle cx="245.7" cy="351.1" r="2.1" fill="#9a9ea2" opacity="0.82"/><circle cx="179.8" cy="400.4" r="0.8" fill="#8c9095" opacity="0.61"/><circle cx="261.0" cy="389.2" r="1.8" fill="#6f747a" opacity="0.81"/><circle cx="256.5" cy="425.2" r="1.9" fill="#8c9095" opacity="0.91"/><circle cx="231.9" cy="430.1" r="2.4" fill="#7f8489" opacity="0.88"/><circle cx="212.2" cy="381.6" r="2.1" fill="#8c9095" opacity="0.82"/><circle cx="259.4" cy="356.2" r="0.9" fill="#8c9095" opacity="0.82"/><circle cx="269.7" cy="362.0" r="1.8" fill="#7f8489" opacity="0.53"/><circle cx="196.6" cy="370.6" r="1.1" fill="#7f8489" opacity="0.86"/><circle cx="199.6" cy="404.1" r="0.9" fill="#8c9095" opacity="0.52"/><circle cx="243.7" cy="434.5" r="1.4" fill="#7f8489" opacity="0.51"/><circle cx="214.7" cy="405.5" r="1.2" fill="#9a9ea2" opacity="0.80"/><circle cx="258.9" cy="363.4" r="1.5" fill="#9a9ea2" opacity="0.87"/><circle cx="253.2" cy="379.0" r="1.5" fill="#6f747a" opacity="0.52"/><circle cx="177.7" cy="412.7" r="2.2" fill="#9a9ea2" opacity="0.93"/><circle cx="287.1" cy="404.6" r="1.1" fill="#7f8489" opacity="0.90"/><circle cx="230.5" cy="439.4" r="1.9" fill="#8c9095" opacity="0.94"/><circle cx="199.3" cy="377.9" r="1.0" fill="#8c9095" opacity="0.93"/><circle cx="231.8" cy="411.5" r="1.6" fill="#9a9ea2" opacity="0.72"/><circle cx="249.7" cy="389.9" r="1.6" fill="#6f747a" opacity="0.84"/><circle cx="234.5" cy="405.3" r="2.4" fill="#9a9ea2" opacity="0.85"/><circle cx="295.2" cy="393.3" r="1.1" fill="#9a9ea2" opacity="0.55"/>
</g>
<g stroke="#1c2a3e" stroke-linejoin="round" stroke-linecap="round">
<path d="M269,386 L269,351 Q269,343 277,343 L338,370 L338,402 Z" fill="#b7babe" stroke-width="2.2"/>
<path d="M271,347 Q272,344 277,345 L336,371 L334,377 L276,351 Z" fill="#f4f6f8" stroke="none"/>
<ellipse cx="288" cy="369.5" rx="6" ry="8" fill="#eef0f2" stroke-width="1.8"/>
<path d="M284.5,364 Q283,370 286,376 Q289,378 291,376 Q287,371 288,363 Z" fill="#6e747b" stroke="none"/>
<path d="M206,408 L206,386 Q206,378 214,378 L290,415 L290,455 L213,418 Q206,415 206,408 Z" fill="#d9dde2" stroke-width="2.3"/>
<path d="M209,383 Q210,380 214,381 L288,417 L288,423 L212,387 Z" fill="#f6f7f9" stroke="none"/>
<path d="M210,387 L288,423" fill="none" stroke-width="1.2"/>
<ellipse cx="227.5" cy="407" rx="7.5" ry="9" fill="#c4c8cd" stroke-width="2"/>
<ellipse cx="229" cy="408" rx="4.5" ry="6" fill="#9ea3a9" stroke="none"/>
</g>
<g><circle cx="232.0" cy="417.0" r="1.1" fill="#7d8288" opacity="0.44"/><circle cx="290.5" cy="406.3" r="1.5" fill="#7d8288" opacity="0.45"/><circle cx="233.0" cy="407.7" r="0.8" fill="#7d8288" opacity="0.73"/><circle cx="226.9" cy="361.3" r="0.9" fill="#7d8288" opacity="0.78"/><circle cx="251.8" cy="435.0" r="1.6" fill="#7d8288" opacity="0.43"/><circle cx="275.5" cy="434.9" r="1.2" fill="#7d8288" opacity="0.61"/><circle cx="241.6" cy="427.4" r="1.2" fill="#7d8288" opacity="0.52"/><circle cx="215.2" cy="412.5" r="0.6" fill="#7d8288" opacity="0.65"/><circle cx="247.1" cy="423.9" r="0.7" fill="#7d8288" opacity="0.43"/><circle cx="224.5" cy="385.9" r="0.7" fill="#7d8288" opacity="0.77"/><circle cx="227.4" cy="374.9" r="1.6" fill="#7d8288" opacity="0.40"/><circle cx="286.4" cy="358.3" r="0.8" fill="#7d8288" opacity="0.79"/><circle cx="251.0" cy="415.3" r="0.9" fill="#7d8288" opacity="0.62"/><circle cx="215.7" cy="375.8" r="1.3" fill="#7d8288" opacity="0.67"/><circle cx="252.3" cy="420.4" r="0.8" fill="#7d8288" opacity="0.73"/><circle cx="227.7" cy="371.3" r="1.0" fill="#7d8288" opacity="0.54"/><circle cx="275.0" cy="397.9" r="1.1" fill="#7d8288" opacity="0.49"/><circle cx="226.0" cy="418.9" r="0.8" fill="#7d8288" opacity="0.78"/><circle cx="293.4" cy="434.1" r="0.8" fill="#7d8288" opacity="0.61"/><circle cx="228.3" cy="389.4" r="0.9" fill="#7d8288" opacity="0.48"/><circle cx="214.3" cy="371.8" r="1.3" fill="#7d8288" opacity="0.72"/><circle cx="257.3" cy="400.3" r="1.5" fill="#7d8288" opacity="0.54"/><circle cx="260.1" cy="382.0" r="0.8" fill="#7d8288" opacity="0.55"/><circle cx="268.7" cy="385.5" r="1.3" fill="#7d8288" opacity="0.42"/><circle cx="216.4" cy="380.3" r="0.9" fill="#7d8288" opacity="0.76"/><circle cx="252.9" cy="431.2" r="0.7" fill="#7d8288" opacity="0.79"/><circle cx="231.1" cy="408.3" r="0.9" fill="#7d8288" opacity="0.73"/><circle cx="275.6" cy="409.4" r="0.9" fill="#7d8288" opacity="0.71"/><circle cx="230.4" cy="356.8" r="1.0" fill="#7d8288" opacity="0.37"/><circle cx="286.2" cy="426.0" r="0.9" fill="#7d8288" opacity="0.50"/><circle cx="277.7" cy="435.5" r="1.1" fill="#7d8288" opacity="0.66"/><circle cx="231.4" cy="370.9" r="0.7" fill="#7d8288" opacity="0.78"/><circle cx="243.3" cy="403.0" r="1.3" fill="#7d8288" opacity="0.52"/><circle cx="270.8" cy="392.2" r="1.2" fill="#7d8288" opacity="0.52"/><circle cx="244.2" cy="432.1" r="0.6" fill="#7d8288" opacity="0.56"/><circle cx="287.8" cy="430.2" r="1.0" fill="#7d8288" opacity="0.66"/><circle cx="226.9" cy="433.3" r="1.3" fill="#7d8288" opacity="0.67"/><circle cx="260.3" cy="439.8" r="0.7" fill="#7d8288" opacity="0.69"/><circle cx="299.4" cy="380.0" r="0.7" fill="#7d8288" opacity="0.69"/><circle cx="239.0" cy="370.8" r="1.2" fill="#7d8288" opacity="0.48"/><circle cx="267.4" cy="423.1" r="1.6" fill="#7d8288" opacity="0.38"/><circle cx="226.7" cy="424.2" r="1.5" fill="#7d8288" opacity="0.67"/><circle cx="284.8" cy="378.7" r="0.6" fill="#7d8288" opacity="0.79"/><circle cx="283.8" cy="405.1" r="0.9" fill="#7d8288" opacity="0.74"/><circle cx="289.0" cy="436.4" r="1.3" fill="#7d8288" opacity="0.78"/><circle cx="226.3" cy="396.4" r="1.5" fill="#7d8288" opacity="0.53"/><circle cx="278.4" cy="365.0" r="0.7" fill="#7d8288" opacity="0.67"/><circle cx="296.7" cy="383.8" r="1.2" fill="#7d8288" opacity="0.54"/><circle cx="297.2" cy="430.0" r="1.4" fill="#7d8288" opacity="0.59"/><circle cx="215.7" cy="405.9" r="0.9" fill="#7d8288" opacity="0.57"/><circle cx="221.5" cy="401.6" r="1.4" fill="#7d8288" opacity="0.74"/><circle cx="259.4" cy="367.0" r="1.5" fill="#7d8288" opacity="0.54"/><circle cx="214.8" cy="425.7" r="1.3" fill="#7d8288" opacity="0.48"/><circle cx="269.4" cy="366.9" r="0.9" fill="#7d8288" opacity="0.36"/><circle cx="223.9" cy="397.1" r="1.0" fill="#7d8288" opacity="0.60"/><circle cx="291.3" cy="439.7" r="1.0" fill="#7d8288" opacity="0.66"/><circle cx="252.5" cy="418.4" r="1.3" fill="#7d8288" opacity="0.39"/><circle cx="267.9" cy="376.2" r="0.9" fill="#7d8288" opacity="0.66"/><circle cx="230.7" cy="363.1" r="0.8" fill="#7d8288" opacity="0.38"/><circle cx="240.2" cy="363.3" r="0.7" fill="#7d8288" opacity="0.77"/></g>
<g stroke="#1c2a3e" stroke-linejoin="round" stroke-linecap="round">
<path d="M270,416 Q270,406 279,403 L371,352 Q381,347 389,352 Q396,357 397,368 L399,385 L330,505 L284,507 Q270,504 270,492 Z" fill="#f3f5f7" stroke-width="2.6"/>
<path d="M271.5,418 L271.5,492 Q272,503 284,505 L284,420 Z" fill="#dde1e6" stroke="none"/>
<path d="M284,420 Q284,413 290,410 L381,362 Q387,359 389,366 L390,381 L296,437 L296,500 L284,502 Z" fill="#d9dde2" stroke="none"/>
<path d="M284,502 L284,420 Q284,413 290,410 L381,362 Q387,359 389,366 L390,380" fill="none" stroke-width="1.6"/>
<path d="M296,437 L397,378 C405,384 412,391 418,398 C424,406 428,414 434,422 L441,428 L380,460 C350,456 320,448 296,437 Z" fill="#f9fafb" stroke-width="2.4"/>
<path d="M296,437 C320,448 350,456 380,459 L380,522 C350,518 320,510 296,502 Z" fill="#d4d9df" stroke-width="1.8"/>
<path d="M334,421 L382,397.5" fill="none" stroke="#1c2a3e" stroke-width="6.2"/>
<path d="M334,421 L382,397.5" fill="none" stroke="#c5ccd5" stroke-width="3.4"/>
<path d="M345,428.5 L391.5,405.8" fill="none" stroke="#1c2a3e" stroke-width="6.2"/>
<path d="M345,428.5 L391.5,405.8" fill="none" stroke="#c5ccd5" stroke-width="3.4"/>
<path d="M358,434.5 L399,412" fill="none" stroke="#1c2a3e" stroke-width="6.2"/>
<path d="M358,434.5 L399,412" fill="none" stroke="#c5ccd5" stroke-width="3.4"/>
<path d="M366.5,439.5 L406,419" fill="none" stroke="#1c2a3e" stroke-width="6.2"/>
<path d="M366.5,439.5 L406,419" fill="none" stroke="#c5ccd5" stroke-width="3.4"/>
<path d="M378,530 L378,468 Q378,460 386,456 L441,423 Q450,419 456,424 Q461,429 461,438 L461,505 L404,541 Q396,544 388,542 Q378,540 378,530 Z" fill="#f3f5f7" stroke-width="2.6"/>
<path d="M379.5,468 L379.5,531 Q381,539 390,541 L393.5,540 L393.5,472 Z" fill="#e0e4e9" stroke="none"/>
<path d="M393.5,538 L393.5,474 Q393.5,467 400,464 L451,433 Q457,432 458,438" fill="none" stroke-width="1.6"/>
<path d="M404,526 L404,481 Q404,475 410,472 L447,452 Q452,450 457,453 L501,487 Q509,492 509,499 L509,530 Q509,537 502,540 L474,551 Q466,554 459,551 L410,531 Q404,529 404,526 Z" fill="#f0f2f5" stroke-width="2.4"/>
<path d="M467,500 L503,489 Q509,492 509,499 L509,530 Q509,537 502,540 L474,551 Q467,553 467,547 Z" fill="#e1e4e9" stroke="none"/>
<path d="M467,500 L467,549" fill="none" stroke-width="1.5"/>
<path d="M405.5,484 L405.5,526 Q406,529 411,531 L413,531 L413,480 Z" fill="#dfe3e8" stroke="none"/>
<path d="M417.5,503 L417.5,485 Q417.5,480 422.0,477.5 L436.3,475" fill="none" stroke="#1c2a3e" stroke-width="6"/>
<path d="M417.5,503 L417.5,485 Q417.5,480 422.0,477.5 L436.3,475" fill="none" stroke="#c4ccd6" stroke-width="3.2"/>
<path d="M429,510 L429,491 Q429,486 433.5,483.5 L448.8,482.5" fill="none" stroke="#1c2a3e" stroke-width="6"/>
<path d="M429,510 L429,491 Q429,486 433.5,483.5 L448.8,482.5" fill="none" stroke="#c4ccd6" stroke-width="3.2"/>
<path d="M441.7,517 L441.7,497.3 Q441.7,492.3 446.2,489.8 L460.5,490" fill="none" stroke="#1c2a3e" stroke-width="6"/>
<path d="M441.7,517 L441.7,497.3 Q441.7,492.3 446.2,489.8 L460.5,490" fill="none" stroke="#c4ccd6" stroke-width="3.2"/>
<path d="M454.2,524 L454.2,503.6 Q454.2,498.6 458.7,496.1 L470,497" fill="none" stroke="#1c2a3e" stroke-width="6"/>
<path d="M454.2,524 L454.2,503.6 Q454.2,498.6 458.7,496.1 L470,497" fill="none" stroke="#c4ccd6" stroke-width="3.2"/>
<path d="M414.8,524.2 L414.8,513.5 L420.2,515.0 L420.2,526.2 Z" fill="#c4ccd6" stroke-width="1.5"/>
<path d="M427.3,529.6 L427.3,518.9 L432.7,520.4 L432.7,531.6 Z" fill="#c4ccd6" stroke-width="1.5"/>
<path d="M440,536.8 L440,526 L445.4,527.5 L445.4,538.8 Z" fill="#c4ccd6" stroke-width="1.5"/>
<path d="M452.4,544 L452.4,531.4 L457.79999999999995,532.9 L457.79999999999995,546 Z" fill="#c4ccd6" stroke-width="1.5"/>
<path d="M446,467.8 L457.5,461.8" fill="none" stroke="#1c2a3e" stroke-width="5.5"/>
<path d="M446,467.8 L457.5,461.8" fill="none" stroke="#c4ccd6" stroke-width="2.8"/>
<path d="M457,475 L469,469" fill="none" stroke="#1c2a3e" stroke-width="5.5"/>
<path d="M457,475 L469,469" fill="none" stroke="#c4ccd6" stroke-width="2.8"/>
<path d="M469,483 L481,477.6" fill="none" stroke="#1c2a3e" stroke-width="5.5"/>
<path d="M469,483 L481,477.6" fill="none" stroke="#c4ccd6" stroke-width="2.8"/>
<path d="M480.5,491 L492,485.7" fill="none" stroke="#1c2a3e" stroke-width="5.5"/>
<path d="M480.5,491 L492,485.7" fill="none" stroke="#c4ccd6" stroke-width="2.8"/>
<path d="M494,508 C503,508 510,510 515,513.5 C528,522 546,546 562,574 L528,591 C518,575 508,562 499,556 C490,550 481,546 479,540 C474,530 480,514 494,508 Z" fill="#f8f9fb" stroke="none"/>
<path d="M482,544 C492,552 505,560 514,572 C519,579 524,585 528,591 L538,586 C530,572 518,556 500,546 C492,541 486,536 484,530 Z" fill="#d7dbe1" stroke="none"/>
<path d="M494,508 C503,508 510,510 515,513.5 C528,522 546,546 562,574" fill="none" stroke-width="2.4"/>
<path d="M494,508 C480,514 474,530 479,540 C481,546 490,550 499,556 C508,562 518,575 528,591" fill="none" stroke-width="2.4"/>
</g>
<path d="M280.5,357.5 L301.1,352.8 L290.9,337.4 L305.5,346.5 L305.0,341.0 L309.4,344.1 L301.4,306.7 L315.4,342.8 L323.0,328.0 L321.4,343.9 L331.5,331.0 L326.8,347.6 L359.7,335.1 L330.8,355.4 L344.7,361.3 L330.3,363.3 L336.0,371.0 L325.4,370.3 L322.3,376.0 L317.2,373.7 L311.9,381.5 L308.4,372.0 L292.4,380.7 L301.2,363.9 Z" fill="#f08a2a" stroke="#d8461c" stroke-width="1.8" stroke-linejoin="miter"/>
<path d="M295.2,357.8 L306.2,354.8 L301.3,346.2 L309.1,350.7 L309.5,348.3 L311.6,349.1 L307.4,328.4 L315.5,348.3 L319.9,340.7 L319.3,349.0 L324.8,342.5 L322.8,351.4 L341.2,344.8 L325.4,356.4 L332.5,360.0 L325.1,361.5 L327.4,365.7 L321.9,366.0 L319.5,368.6 L316.6,368.2 L313.5,371.8 L311.0,367.2 L302.1,371.3 L306.3,361.9 Z" fill="#fcd43e" stroke="none"/>
<circle cx="315.6" cy="358.3" r="10" fill="url(#glow)"/>
<path d="M226.4,319.5 Q223.95000000000002,325.575 220.4,329.4 A7,7 0 1 0 232.4,329.4 Q228.85,325.575 226.4,319.5 Z" fill="url(#drop)" stroke="#1f4f7a" stroke-width="1.6"/>
<ellipse cx="228.8" cy="333.4" rx="1.5" ry="2.8" fill="#ffffff" opacity="0.7"/>
<path d="M246.6,326.5 Q243.45,334.6 238.8,340.0 A9,9 0 1 0 254.4,340.0 Q249.75,334.6 246.6,326.5 Z" fill="url(#drop)" stroke="#1f4f7a" stroke-width="1.6"/>
<ellipse cx="249.8" cy="344.9" rx="2.0" ry="3.6" fill="#ffffff" opacity="0.7"/>
<path d="M222,438.6 Q219.55,444.63 216.0,448.3 A7,7 0 1 0 228.0,448.3 Q224.45,444.63 222,438.6 Z" fill="url(#drop)" stroke="#1f4f7a" stroke-width="1.6"/>
<ellipse cx="224.4" cy="452.4" rx="1.5" ry="2.8" fill="#ffffff" opacity="0.7"/>
<path d="M246.6,450 Q243.45,457.47 239.0,461.7 A9,9 0 1 0 254.2,461.7 Q249.75,457.47 246.6,450 Z" fill="url(#drop)" stroke="#1f4f7a" stroke-width="1.6"/>
<ellipse cx="249.8" cy="467.1" rx="2.0" ry="3.6" fill="#ffffff" opacity="0.7"/>
<g stroke="#1c2a3e" stroke-width="1.8" fill="none" stroke-linecap="round">
<path d="M345.5,204 L312,204 L251,334"/>
<path d="M384.5,298 L345.3,298 L325,337"/>
<path d="M204,440 L204,566.5"/>
<path d="M252,476 L290,566.5"/>
</g>
</svg>

<div id="title" class="t">静かなる脅威：トラッキング火災</div>

<div id="vline"></div>
<div class="hline" style="top:277.5px"></div>
<div class="hline" style="top:435.6px"></div>

<div class="t h" style="left:627px;top:142px">メカニズム</div>
<div class="t b" style="left:627px;top:192px">コンセントとプラグの間に溜まった「ホコリ」が湿</div>
<div class="t b" style="left:627px;top:223.5px">気を吸い、電気が流れて<span class="red">発火</span>する現象。</div>

<div class="t h" style="left:627px;top:298px">危険地帯</div>
<div class="t b" style="left:627px;top:349px">冷蔵庫やテレビの裏など、長期間差しっぱなしで掃</div>
<div class="t b" style="left:627px;top:382.5px">除しにくい場所。</div>

<div class="t h grn" style="left:627px;top:459px">予防策</div>
<div class="dot" style="top:521px"></div><div class="dot" style="top:586px"></div>
<div class="t b" style="left:650px;top:508.5px">定期的にプラグを抜いて、乾いた布でホコリを拭</div>
<div class="t b" style="left:650px;top:539px">き取る。</div>
<div class="t b" style="left:650px;top:572.3px">使わない差し込み口にはカバー（シャッター）を</div>
<div class="t b" style="left:650px;top:603.7px">活用する。</div>

<div class="t lbl red" style="left:349px;top:189px;font-size:25.5px">トラッキング現象</div>
<div class="t lbl" style="left:394px;top:280px;letter-spacing:0.4px;transform:scaleY(1.1)"><span class="red">発火</span><span style="display:inline-block;font-size:28px;font-weight:normal;-webkit-text-stroke:0.6px;margin:0 2px 0 1px;transform:translateY(2px)">/</span>スパーク</div>
<div class="t lbl" style="left:166px;top:569px">ホコリ</div>
<div class="t lbl" style="left:277px;top:568px;font-size:25.5px">湿気</div>

<svg style="position:absolute;left:1107px;top:650px" width="14" height="11" viewBox="0.5 1 15 12"><g fill="none" stroke="#222" stroke-width="1.7" stroke-linecap="butt"><path d="M2,12 L2,8.5 A6,6 0 0 1 14,8.5 L14,12"/><path d="M5.2,12 L5.2,10 A3.6,3.6 0 0 1 12.4,10 L12.4,12"/><path d="M8.2,12 A1.4,1.4 0 0 1 11,12"/></g></svg>
<div id="logo">NotebookLM</div>
<script>
(function(){
var W=[692.25,155,533.2,410.23,120,528.2,183.2,90,506.81,91.61,506.81,114.02,214,166.5,78,52];
var els=document.querySelectorAll('.t');
for(var i=0;i<els.length&&i<W.length;i++){
var e=els[i],w=e.getBoundingClientRect().width;
if(!w)continue;
var r=W[i]/w;
if(Math.abs(r-1)>0.03){
var m=getComputedStyle(e).transform,sy=1;
if(m&&m!=='none'){var v=m.match(/matrix\(([^)]+)\)/);if(v){sy=parseFloat(v[1].split(',')[3]);}}
e.style.transformOrigin='0 0';
e.style.transform='scale('+r.toFixed(4)+','+sy+')';
if(r>1.15){e.style.webkitTextStroke='1.6px';}
}
}
})();
</script>
</body>
</html>
